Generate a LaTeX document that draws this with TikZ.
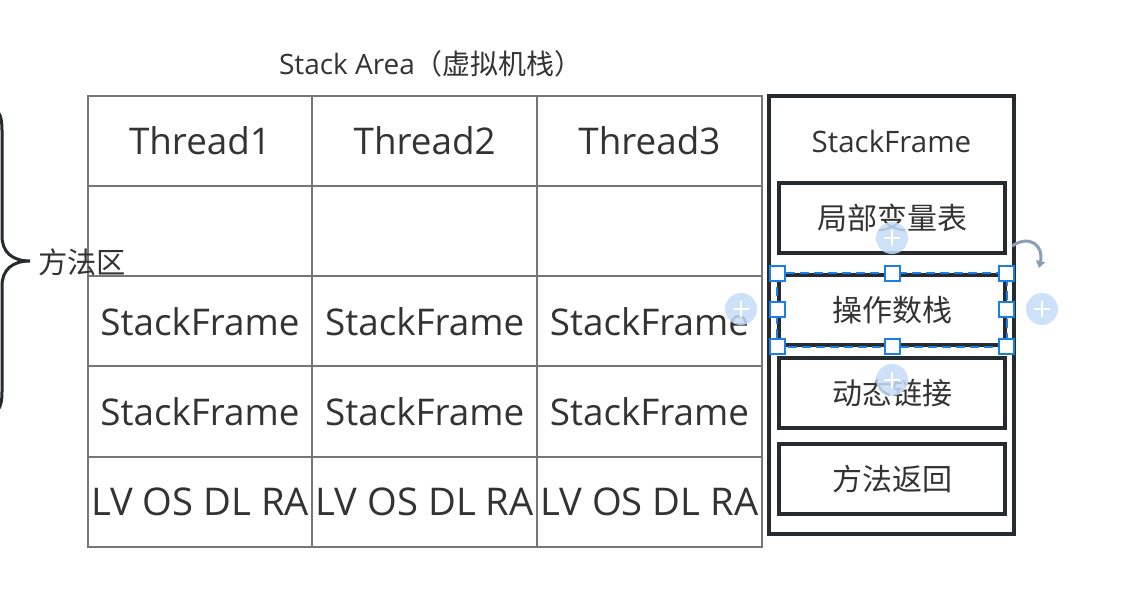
\documentclass[tikz,border=0pt]{standalone}
\usepackage{fontspec}
\setmainfont{Open Sans}
\newfontfamily\cjk{Noto Sans CJK SC}
\usetikzlibrary{arrows.meta}
\definecolor{gridgray}{HTML}{767676}
\definecolor{darkline}{HTML}{262B30}
\definecolor{txt}{HTML}{333333}
\definecolor{selblue}{HTML}{1A7FE6}
\definecolor{plusblue}{HTML}{C4DDF8}
\definecolor{rotgray}{HTML}{8C9DB6}
\tikzset{
  cell/.style={draw=gridgray, line width=2pt, minimum width=224.7pt, minimum height=90.2pt,
    inner sep=0pt, outer sep=0pt, text=txt, font=\fontsize{36.8}{42}\selectfont},
  framebox/.style={draw=darkline, line width=3.5pt, minimum width=226pt, minimum height=70pt,
    inner sep=0pt, text=txt, font=\cjk\fontsize{30}{34}\selectfont},
  handle/.style={draw=selblue, fill=white, line width=2pt, minimum size=15pt, inner sep=0pt},
  plusc/.style={circle, fill=plusblue, fill opacity=0.85, minimum size=32pt, inner sep=0pt},
  lbl/.style={text=txt, inner sep=0pt}
}
\begin{document}
\begin{tikzpicture}[x=1pt,y=-1pt]
\useasboundingbox (0,0) rectangle (1125,609);
% title
\node[lbl, font=\fontsize{28}{32}\selectfont] (title) at (431,64) {Stack Area{\cjk（虚拟机栈）}};
% table
\foreach \c/\x in {1/200,2/424.7,3/649.4}{
  \node[cell] (h\c) at (\x,141) {Thread\c};
  \node[cell] (e\c) at (\x,231.2) {};
  \node[cell] (s\c) at (\x,321.4) {StackFrame};
  \node[cell] (t\c) at (\x,411.6) {StackFrame};
  \node[cell, font=\fontsize{38.2}{44}\selectfont] (l\c) at (\x,501.8) {LV OS DL RA};
}
% stack frame box
\node[draw=darkline, line width=3.5pt, minimum width=245pt, minimum height=438pt, inner sep=0pt] (sf) at (891.5,315) {};
\node[lbl, font=\fontsize{29.5}{34}\selectfont] (sft) at (891.5,141) {StackFrame};
\node[framebox] (b1) at (892,218) {局部变量表};
\node[framebox] (b2) at (892,310) {操作数栈};
\node[framebox] (b3) at (892,393) {动态链接};
\node[framebox] (b4) at (892,479) {方法返回};
% brace
\draw[darkline, line width=3pt, line cap=round]
  (-14,106) .. controls (-2,107) and (2,114) .. (2,130) -- (2,236)
  .. controls (2,252) and (12,261) .. (30,261)
  .. controls (12,261) and (2,270) .. (2,286) -- (2,392)
  .. controls (2,408) and (-2,414) .. (-14,415);
\node[lbl, font=\cjk\fontsize{29.3}{33}\selectfont, anchor=west] (mq) at (38,262) {方法区};
% selection overlay
\draw[selblue, line width=1.8pt, dash pattern=on 9pt off 5pt] (b2.north west) rectangle (b2.south east);
\foreach \n/\a in {n1/north west,n2/north,n3/north east,n4/west,n5/east,n6/south west,n7/south,n8/south east}{
  \node[handle] (\n) at (b2.\a) {};
}
\foreach \n/\p in {p1/{(892,238)},p2/{(741,309)},p3/{(1042,309)},p4/{(892,380)}}{
  \node[plusc] (\n) at \p {};
  \draw[white, line width=2pt] ([xshift=-8pt]\n.center) -- ([xshift=8pt]\n.center)
    ([yshift=-8pt]\n.center) -- ([yshift=8pt]\n.center);
}
\coordinate (r1) at (1012,246);
\coordinate (r2) at (1039,268);
\draw[rotgray, line width=3pt, -{Triangle[length=7pt,width=9pt]}]
  (r1) .. controls (1030,234) and (1044,246) .. (r2);
\end{tikzpicture}
\end{document}
